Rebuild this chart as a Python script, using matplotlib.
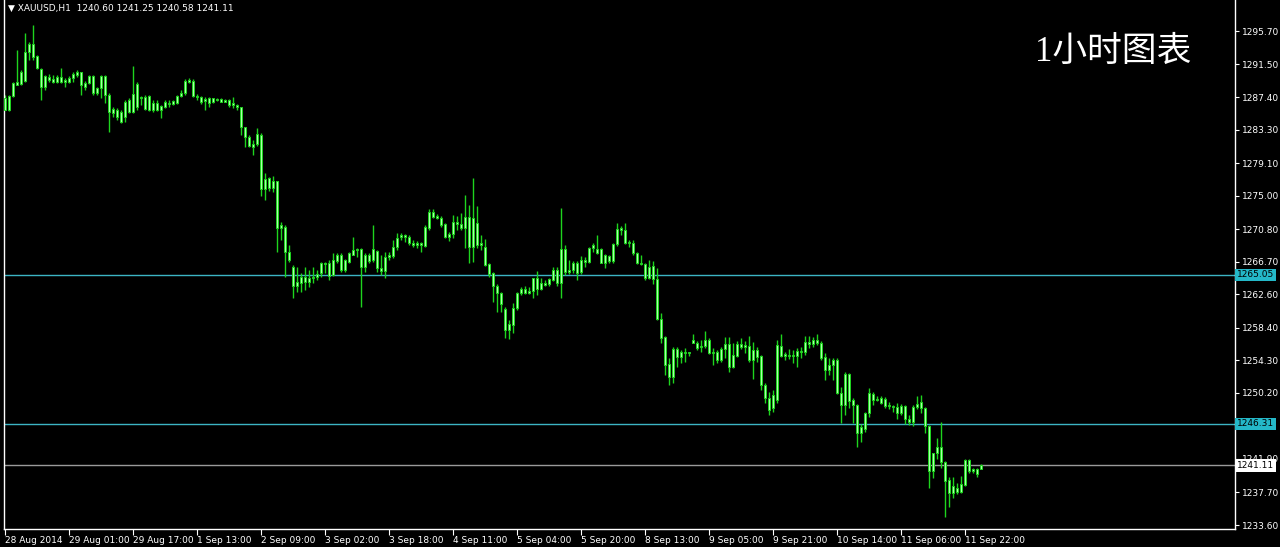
import matplotlib.pyplot as plt
import numpy as np

plt.rcParams['font.family'] = ['DejaVu Sans']

# XAUUSD H1, 245 hourly bars
opens = [
    1285.8, 1285.8, 1287.5, 1289.3, 1289.0, 1289.4, 1293.1, 1294.1, 1292.6, 1290.9,
    1288.7, 1289.9, 1289.7, 1289.3, 1289.9, 1289.3, 1289.3, 1289.8, 1290.2, 1290.5,
    1288.7, 1289.2, 1290.0, 1287.9, 1288.5, 1290.0, 1287.7, 1285.4, 1285.8, 1285.5,
    1284.9, 1287.0, 1285.5, 1286.2, 1287.4, 1287.4, 1285.8, 1286.7, 1285.8, 1286.3,
    1286.2, 1286.7, 1286.5, 1286.7, 1287.5, 1287.9, 1289.3, 1289.4, 1287.5, 1287.4,
    1286.9, 1287.3, 1286.8, 1287.2, 1287.2, 1286.8, 1287.0, 1286.7, 1286.4, 1286.2,
    1283.6, 1282.4, 1281.1, 1281.5, 1282.6, 1275.8, 1277.2, 1276.0, 1276.8, 1270.9,
    1271.1, 1267.9, 1266.0, 1263.6, 1264.0, 1264.8, 1264.1, 1264.6, 1264.8, 1265.3,
    1266.5, 1266.5, 1265.0, 1266.8, 1267.5, 1265.7, 1266.7, 1267.5, 1268.2, 1268.3,
    1266.0, 1267.5, 1266.9, 1268.0, 1265.9, 1265.5, 1267.3, 1267.4, 1268.5, 1269.8,
    1270.0, 1269.8, 1269.1, 1268.8, 1269.0, 1268.7, 1271.0, 1272.9, 1272.4, 1272.2,
    1271.4, 1269.8, 1270.2, 1271.7, 1271.5, 1270.9, 1272.3, 1268.6, 1271.6, 1268.8,
    1268.6, 1266.4, 1265.3, 1263.7, 1262.8, 1260.8, 1258.1, 1258.8, 1260.9, 1262.8,
    1263.3, 1262.8, 1263.0, 1264.6, 1263.3, 1264.0, 1263.9, 1264.4, 1265.7, 1264.0,
    1268.3, 1265.4, 1265.7, 1266.5, 1265.4, 1266.9, 1266.7, 1268.4, 1268.3, 1268.3,
    1266.5, 1267.4, 1266.8, 1268.9, 1270.9, 1270.7, 1269.2, 1269.1, 1267.8, 1266.6,
    1266.4, 1264.7, 1266.1, 1264.5, 1259.5, 1257.2, 1253.9, 1252.2, 1255.7, 1254.7,
    1255.3, 1255.2, 1256.5, 1256.5, 1256.1, 1256.1, 1256.9, 1255.3, 1255.3, 1254.3,
    1255.7, 1256.4, 1253.5, 1254.9, 1256.4, 1256.0, 1256.1, 1254.3, 1255.6, 1254.9,
    1251.2, 1249.6, 1248.3, 1249.3, 1256.1, 1254.8, 1255.0, 1254.8, 1254.9, 1255.5,
    1255.3, 1256.6, 1256.3, 1256.9, 1256.5, 1254.7, 1253.1, 1253.7, 1254.3, 1250.2,
    1248.7, 1252.6, 1249.3, 1248.7, 1245.2, 1245.7, 1247.7, 1250.1, 1249.3, 1249.6,
    1249.4, 1248.7, 1248.5, 1248.4, 1247.7, 1248.6, 1246.9, 1246.5, 1248.4, 1249.1,
    1248.3, 1246.0, 1240.4, 1242.7, 1243.4, 1241.5, 1239.2, 1237.6, 1238.2, 1237.8,
    1238.6, 1241.8, 1240.4, 1240.6, 1240.60]

highs = [
    1287.7, 1287.7, 1289.3, 1293.3, 1290.8, 1295.5, 1294.3, 1296.5, 1292.7, 1291.1,
    1290.2, 1290.3, 1290.2, 1290.2, 1291.1, 1289.8, 1290.1, 1290.5, 1290.8, 1290.5,
    1289.4, 1290.2, 1290.2, 1288.7, 1290.2, 1290.2, 1287.9, 1286.2, 1286.0, 1285.8,
    1287.0, 1287.3, 1291.3, 1289.3, 1287.5, 1287.7, 1287.7, 1287.0, 1287.0, 1286.4,
    1287.0, 1287.0, 1287.0, 1287.7, 1288.3, 1289.7, 1289.8, 1289.7, 1287.8, 1287.5,
    1287.4, 1287.4, 1287.3, 1287.3, 1287.3, 1287.2, 1287.2, 1287.4, 1286.5, 1286.2,
    1283.6, 1282.6, 1282.0, 1283.5, 1282.9, 1277.9, 1277.4, 1277.5, 1276.9, 1271.7,
    1271.3, 1268.8, 1266.3, 1266.0, 1265.3, 1266.0, 1265.7, 1266.0, 1265.7, 1266.7,
    1266.7, 1266.9, 1267.8, 1267.8, 1267.8, 1267.1, 1267.9, 1269.8, 1268.4, 1268.4,
    1267.8, 1267.8, 1271.3, 1268.2, 1267.5, 1267.9, 1267.9, 1269.4, 1270.3, 1270.3,
    1270.2, 1270.1, 1269.4, 1269.3, 1269.2, 1271.3, 1273.3, 1273.3, 1272.7, 1272.4,
    1271.6, 1270.4, 1272.6, 1272.4, 1272.8, 1275.1, 1273.8, 1277.2, 1273.7, 1270.0,
    1269.6, 1266.5, 1265.4, 1263.9, 1262.9, 1261.0, 1259.4, 1261.5, 1262.9, 1263.5,
    1263.6, 1263.5, 1264.7, 1265.5, 1264.7, 1264.4, 1264.7, 1266.0, 1266.0, 1273.4,
    1268.8, 1266.9, 1266.8, 1266.8, 1267.4, 1267.3, 1268.6, 1269.1, 1270.1, 1268.4,
    1267.7, 1267.5, 1269.1, 1271.6, 1271.2, 1271.6, 1269.4, 1269.4, 1267.9, 1267.5,
    1266.5, 1266.9, 1266.8, 1265.9, 1260.2, 1257.4, 1254.6, 1256.0, 1256.0, 1255.6,
    1255.9, 1255.4, 1257.6, 1256.7, 1256.9, 1258.0, 1257.1, 1255.9, 1255.6, 1256.0,
    1257.2, 1257.2, 1256.5, 1256.7, 1257.1, 1256.7, 1257.4, 1256.6, 1256.0, 1255.0,
    1251.5, 1250.3, 1250.6, 1256.9, 1257.6, 1255.4, 1255.7, 1255.6, 1255.9, 1256.0,
    1257.4, 1257.4, 1257.2, 1257.6, 1256.7, 1255.2, 1254.6, 1254.6, 1254.6, 1250.9,
    1252.8, 1252.7, 1249.6, 1248.8, 1246.3, 1247.8, 1250.8, 1250.3, 1249.8, 1249.8,
    1249.7, 1249.1, 1248.7, 1248.9, 1248.8, 1248.7, 1247.4, 1248.7, 1249.8, 1249.9,
    1248.4, 1246.2, 1242.7, 1244.5, 1246.5, 1241.6, 1239.6, 1239.6, 1238.9, 1239.8,
    1241.9, 1241.9, 1240.8, 1240.8, 1241.25]

lows = [
    1285.8, 1285.7, 1287.4, 1288.9, 1288.9, 1289.3, 1292.1, 1292.1, 1290.9, 1287.0,
    1288.3, 1289.3, 1289.2, 1289.2, 1289.2, 1288.7, 1289.2, 1289.3, 1289.9, 1287.7,
    1288.3, 1289.0, 1287.7, 1287.7, 1287.3, 1286.7, 1283.0, 1284.9, 1284.5, 1284.1,
    1284.3, 1285.4, 1285.4, 1285.8, 1286.4, 1285.8, 1285.7, 1285.5, 1285.7, 1284.8,
    1286.0, 1286.2, 1286.4, 1286.5, 1287.4, 1287.7, 1289.2, 1287.4, 1287.0, 1286.5,
    1285.8, 1286.2, 1286.7, 1286.9, 1286.8, 1286.8, 1286.2, 1286.0, 1285.8, 1282.6,
    1281.1, 1281.1, 1280.1, 1281.2, 1275.0, 1274.5, 1275.6, 1275.5, 1267.9, 1269.4,
    1264.8, 1266.7, 1262.1, 1262.9, 1262.9, 1263.1, 1263.5, 1264.0, 1264.4, 1264.8,
    1265.3, 1264.4, 1264.9, 1266.5, 1265.4, 1265.4, 1266.5, 1267.5, 1267.3, 1261.0,
    1265.4, 1266.5, 1266.7, 1265.4, 1265.0, 1264.7, 1266.9, 1267.2, 1268.2, 1269.4,
    1269.2, 1268.8, 1268.5, 1268.4, 1267.9, 1268.6, 1270.7, 1272.2, 1272.1, 1271.1,
    1269.7, 1269.3, 1269.7, 1270.7, 1270.7, 1268.4, 1266.5, 1266.7, 1268.4, 1268.2,
    1266.2, 1264.8, 1261.6, 1260.4, 1260.4, 1257.1, 1257.0, 1257.7, 1260.6, 1262.5,
    1262.6, 1262.7, 1262.2, 1262.5, 1263.1, 1263.6, 1263.6, 1264.3, 1263.7, 1262.1,
    1265.0, 1265.2, 1265.3, 1264.4, 1265.2, 1266.0, 1266.5, 1267.9, 1267.7, 1266.5,
    1265.9, 1266.5, 1266.5, 1268.7, 1270.1, 1268.9, 1268.5, 1267.5, 1266.4, 1266.3,
    1264.4, 1264.5, 1263.9, 1259.4, 1256.5, 1252.5, 1251.2, 1251.5, 1253.5, 1254.0,
    1254.1, 1254.9, 1256.5, 1255.6, 1255.4, 1255.9, 1255.1, 1253.7, 1254.0, 1254.1,
    1254.6, 1252.8, 1253.3, 1254.7, 1255.7, 1255.2, 1254.1, 1252.0, 1254.1, 1250.6,
    1248.9, 1247.4, 1247.8, 1248.9, 1254.7, 1254.3, 1254.5, 1254.0, 1253.5, 1254.6,
    1255.0, 1255.8, 1256.0, 1256.2, 1254.3, 1251.8, 1252.5, 1251.8, 1250.1, 1246.4,
    1247.4, 1248.3, 1246.4, 1243.4, 1244.0, 1245.3, 1247.2, 1248.7, 1249.2, 1248.8,
    1248.3, 1248.2, 1247.8, 1246.9, 1247.4, 1246.3, 1246.2, 1246.1, 1248.2, 1247.7,
    1245.2, 1238.3, 1239.5, 1241.9, 1240.8, 1234.6, 1235.9, 1237.0, 1237.5, 1237.6,
    1238.5, 1240.1, 1240.1, 1239.6, 1240.58]

closes = [
    1287.3, 1287.5, 1289.2, 1288.9, 1290.5, 1293.1, 1294.1, 1292.4, 1291.0, 1288.7,
    1290.0, 1289.5, 1289.3, 1289.9, 1289.3, 1289.5, 1289.8, 1290.3, 1290.5, 1288.9,
    1289.2, 1290.0, 1287.9, 1288.5, 1290.0, 1287.7, 1285.5, 1285.9, 1284.9, 1284.3,
    1286.8, 1285.5, 1287.8, 1289.0, 1287.3, 1285.9, 1287.5, 1285.8, 1286.7, 1285.8,
    1286.8, 1286.5, 1286.9, 1287.5, 1287.9, 1289.4, 1289.5, 1287.5, 1287.4, 1286.8,
    1287.2, 1286.7, 1287.3, 1287.0, 1286.8, 1287.0, 1286.4, 1286.4, 1286.2, 1283.6,
    1282.4, 1281.2, 1281.5, 1282.8, 1275.8, 1277.1, 1276.0, 1276.8, 1270.9, 1271.3,
    1267.9, 1266.9, 1263.6, 1264.1, 1264.8, 1264.1, 1264.6, 1264.8, 1265.2, 1266.5,
    1266.4, 1264.9, 1266.9, 1267.5, 1265.7, 1266.9, 1267.8, 1268.2, 1268.3, 1266.0,
    1267.5, 1266.8, 1268.3, 1265.9, 1265.5, 1267.3, 1267.5, 1268.6, 1269.7, 1270.0,
    1269.8, 1269.1, 1268.8, 1269.0, 1268.8, 1271.1, 1272.9, 1272.3, 1272.2, 1271.3,
    1269.8, 1270.2, 1271.7, 1271.5, 1270.9, 1272.3, 1268.6, 1272.2, 1268.8, 1269.0,
    1266.3, 1265.2, 1263.6, 1262.8, 1261.4, 1258.1, 1258.9, 1260.9, 1262.8, 1263.3,
    1262.8, 1263.0, 1264.6, 1263.3, 1264.0, 1263.8, 1264.5, 1265.7, 1264.0, 1268.3,
    1265.4, 1265.7, 1266.5, 1265.3, 1266.9, 1266.7, 1268.4, 1268.8, 1267.8, 1266.5,
    1267.5, 1266.8, 1268.9, 1270.8, 1270.7, 1269.1, 1269.1, 1267.8, 1266.5, 1266.4,
    1264.7, 1266.0, 1264.5, 1259.5, 1257.1, 1253.7, 1252.2, 1255.7, 1254.7, 1255.4,
    1255.2, 1255.3, 1256.8, 1255.9, 1256.0, 1256.9, 1255.2, 1255.2, 1254.3, 1255.7,
    1256.4, 1253.5, 1255.0, 1256.4, 1256.0, 1256.2, 1254.3, 1255.6, 1254.7, 1251.2,
    1249.6, 1248.1, 1249.9, 1256.2, 1254.8, 1255.1, 1254.8, 1255.0, 1255.5, 1255.4,
    1256.6, 1256.4, 1256.9, 1256.5, 1254.6, 1253.1, 1253.7, 1254.3, 1250.2, 1248.7,
    1252.6, 1249.2, 1248.7, 1245.2, 1245.9, 1247.7, 1250.2, 1249.3, 1249.5, 1249.0,
    1248.6, 1248.5, 1248.4, 1247.7, 1248.6, 1246.9, 1246.5, 1248.4, 1248.8, 1248.3,
    1246.0, 1240.4, 1242.7, 1243.4, 1241.5, 1239.1, 1237.6, 1238.5, 1237.8, 1238.8,
    1241.8, 1240.4, 1240.6, 1240.0, 1241.11]

time_labels = ['28 Aug 2014', '29 Aug 01:00', '29 Aug 17:00', '1 Sep 13:00',
               '2 Sep 09:00', '3 Sep 02:00', '3 Sep 18:00', '4 Sep 11:00',
               '5 Sep 04:00', '5 Sep 20:00', '8 Sep 13:00', '9 Sep 05:00',
               '9 Sep 21:00', '10 Sep 14:00', '11 Sep 06:00', '11 Sep 22:00']
label_step = 16

price_ticks = [1295.70, 1291.50, 1287.40, 1283.30, 1279.10, 1275.00, 1270.80,
               1266.70, 1262.60, 1258.40, 1254.30, 1250.20, 1241.90, 1237.70, 1233.60]

level_lines = [1265.05, 1246.31]
bid_price = 1241.11
header = '\u25bc XAUUSD,H1  1240.60 1241.25 1240.58 1241.11'
title_cn = '1小时图表'

o = np.array(opens)
h = np.array(highs)
l = np.array(lows)
c = np.array(closes)
x = np.arange(len(c))

fig = plt.figure(figsize=(12.8, 5.47), dpi=100, facecolor='black')
ax = fig.add_axes([4 / 1280, 18 / 547, 1231 / 1280, 529 / 547])
ax.set_facecolor('black')

# candles: green wicks, outlined light-green bodies
ax.vlines(x, l, h, color='#1ed41e', lw=1, zorder=2)
body_low = np.minimum(o, c)
body_h = np.maximum(np.abs(c - o), 0.12)
ax.bar(x, body_h, bottom=body_low, width=0.72, color='#aaffaa',
       edgecolor='#1ed41e', linewidth=0.7, zorder=3)

# horizontal levels
for lvl in level_lines:
    ax.axhline(lvl, color='#3cb4c4', lw=1, zorder=1)
    ax.text(1.0015, lvl, f'{lvl:.2f}', transform=ax.get_yaxis_transform(),
            ha='left', va='center', fontsize=6.5, color='black', zorder=5,
            bbox=dict(boxstyle='square,pad=0.2', fc='#24b8c8', ec='none'), clip_on=False)
ax.axhline(bid_price, color='#9a9a9a', lw=1, zorder=1)
ax.text(1.0015, bid_price, f'{bid_price:.2f}', transform=ax.get_yaxis_transform(),
        ha='left', va='center', fontsize=6.5, color='black', zorder=5,
        bbox=dict(boxstyle='square,pad=0.2', fc='white', ec='none'), clip_on=False)

ax.set_xlim(-0.25, 307.5)
ax.set_ylim(1233.1, 1299.6)

# axes look
for side in ['left', 'bottom', 'right']:
    ax.spines[side].set_color('white')
    ax.spines[side].set_linewidth(1)
ax.spines['top'].set_visible(False)

ax.yaxis.tick_right()
ax.set_yticks(price_ticks)
ax.set_yticklabels([f'{p:.2f}' for p in price_ticks])
ax.tick_params(axis='y', colors='white', labelsize=6.5, length=3, pad=2)

tick_pos = np.arange(len(time_labels)) * label_step
ax.set_xticks(tick_pos)
ax.set_xticklabels(time_labels, ha='left')
ax.tick_params(axis='x', colors='white', labelsize=6.5, length=4, pad=1)

ax.text(0.003, 0.993, header, transform=ax.transAxes, color='white',
        fontsize=6.5, va='top', ha='left')
fig.text(1035 / 1280, 1 - 52 / 547, title_cn, color='white', fontsize=25,
         va='center', ha='left', family=['Liberation Serif', 'Noto Sans CJK SC'])

plt.savefig('out.png', dpi=100, facecolor='black')
